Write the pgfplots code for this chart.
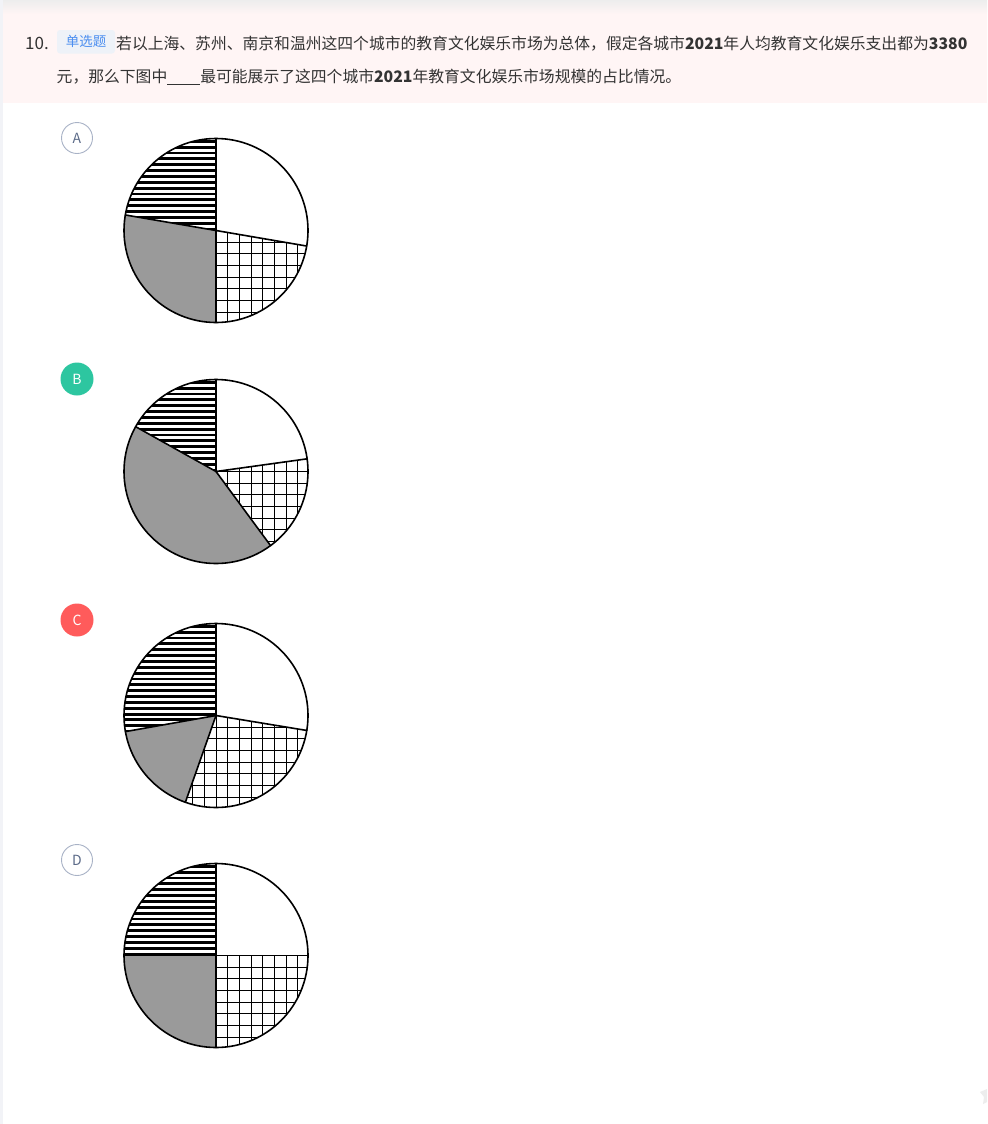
\documentclass[border=0pt]{standalone}
\usepackage{pgfplots}
\usepackage{pgfplotstable}
\pgfplotsset{compat=1.18}
\usepackage{fontspec}
\setmainfont{Noto Sans CJK SC}

\definecolor{txt}{HTML}{333333}
\definecolor{headbg}{HTML}{FFF5F5}
\definecolor{topgray}{HTML}{EDEDED}
\definecolor{sidebar}{HTML}{F2F3F7}
\definecolor{tagbg}{HTML}{EEF2F8}
\definecolor{tagtxt}{HTML}{4B8EF0}
\definecolor{optline}{HTML}{A8B2C6}
\definecolor{opttxt}{HTML}{5B6A88}
\definecolor{optB}{HTML}{2DC6A0}
\definecolor{optC}{HTML}{FF5B5B}
\definecolor{piegray}{HTML}{9A9A9A}

% share of each city (percent), clockwise from 12 o'clock:
% white, grid, gray, stripes
\pgfplotstableread{
opt white grid gray stripes
A 27.7 22.3 27.7 22.3
B 22.8 17.1 43.2 16.9
C 27.6 27.8 16.8 27.8
D 25.0 25.0 25.0 25.0
}\pies

\newcommand\R{92bp}
\newcommand\pie[2]{% #1 row, #2 centre y (image px)
  \pgfplotstablegetelem{#1}{white}\of\pies \pgfmathsetmacro\spW{3.6*\pgfplotsretval}
  \pgfplotstablegetelem{#1}{grid}\of\pies  \pgfmathsetmacro\spG{3.6*\pgfplotsretval}
  \pgfplotstablegetelem{#1}{gray}\of\pies  \pgfmathsetmacro\spY{3.6*\pgfplotsretval}
  \pgfmathsetmacro\spS{360-\spW-\spG-\spY}
  \pgfmathsetmacro\angA{90-\spW}
  \pgfmathsetmacro\angB{\angA-\spG}
  \pgfmathsetmacro\angC{\angB-\spY}
  \fill[white] (axis cs:216,#2) circle[radius=\R];
  % gray slice
  \fill[piegray] (axis cs:216,#2) -- ++(\angB:\R)
    arc[start angle=\angB, delta angle=-\spY, radius=\R] -- cycle;
  % grid slice
  \begin{scope}
    \clip (axis cs:216,#2) -- ++(\angA:\R)
      arc[start angle=\angA, delta angle=-\spG, radius=\R] -- cycle;
    \begin{scope}[shift={(axis cs:216,#2)}]
      \draw[black, line width=1bp, step=11.67bp] (-105bp,-105bp) grid (105bp,105bp);
    \end{scope}
  \end{scope}
  % striped slice
  \begin{scope}
    \clip (axis cs:216,#2) -- ++(\angC:\R)
      arc[start angle=\angC, delta angle=-\spS, radius=\R] -- cycle;
    \begin{scope}[shift={(axis cs:216,#2)}]
      \foreach \k in {-5,...,16}
        \fill[black] (-105bp,\k*5.85bp) rectangle (105bp,\k*5.85bp+2.9bp);
    \end{scope}
  \end{scope}
  % outlines
  \draw[black, line width=1.6bp] (axis cs:216,#2) circle[radius=\R];
  \draw[black, line width=1.6bp, line cap=round]
    (axis cs:216,#2) -- ++(90:\R)
    (axis cs:216,#2) -- ++(\angA:\R)
    (axis cs:216,#2) -- ++(\angB:\R)
    (axis cs:216,#2) -- ++(\angC:\R);
}

\begin{document}
\begin{tikzpicture}
\begin{axis}[
    width=987bp, height=1124bp, scale only axis,
    xmin=0, xmax=987, ymin=0, ymax=1124,
    y dir=reverse,
    hide axis, clip=false,
  ]
\pgfplotsextra{%
  % page background
  \fill[white] (axis cs:0,0) rectangle (axis cs:987,1124);
  \fill[headbg] (axis cs:0,0) rectangle (axis cs:987,103);
  \shade[top color=topgray, bottom color=headbg] (axis cs:0,0) rectangle (axis cs:987,14);
  \fill[sidebar] (axis cs:0,0) rectangle (axis cs:3,1124);

  % question text
  \node[anchor=west, inner sep=0, text=txt, font=\fontsize{17bp}{20bp}\selectfont]
    at (axis cs:25,43) {10.};
  \fill[tagbg, rounded corners=3bp] (axis cs:57,30) rectangle (axis cs:115,53.5);
  \node[anchor=center, inner sep=0, text=tagtxt, font=\fontsize{13.5bp}{16bp}\selectfont]
    at (axis cs:86,41.8) {单选题};
  \node[anchor=west, inner sep=0, text=txt, font=\fontsize{15.8bp}{20bp}\selectfont]
    at (axis cs:116,43.3)
    {若以上海、苏州、南京和温州这四个城市的教育文化娱乐市场为总体，假定各城市{\bfseries 2021}年人均教育文化娱乐支出都为{\bfseries 3380}};
  \node[anchor=west, inner sep=0, text=txt, font=\fontsize{15.8bp}{20bp}\selectfont]
    at (axis cs:56.5,76.7)
    {元，那么下图中\underline{\hspace{33bp}}最可能展示了这四个城市{\bfseries 2021}年教育文化娱乐市场规模的占比情况。};

  % option markers
  \filldraw[fill=white, draw=optline, line width=0.9bp] (axis cs:77,138) circle[radius=15.5bp];
  \node[text=opttxt, inner sep=0, font=\fontsize{14bp}{16bp}\selectfont] at (axis cs:77,138) {A};
  \fill[optB] (axis cs:77,379) circle[radius=16.5bp];
  \node[text=white, inner sep=0, font=\fontsize{14bp}{16bp}\selectfont] at (axis cs:77,379) {B};
  \fill[optC] (axis cs:77,620) circle[radius=16.5bp];
  \node[text=white, inner sep=0, font=\fontsize{14bp}{16bp}\selectfont] at (axis cs:77,620) {C};
  \filldraw[fill=white, draw=optline, line width=0.9bp] (axis cs:77,860) circle[radius=15.5bp];
  \node[text=opttxt, inner sep=0, font=\fontsize{14bp}{16bp}\selectfont] at (axis cs:77,860) {D};

  % pies
  \pie{0}{230.5}
  \pie{1}{471.5}
  \pie{2}{715.5}
  \pie{3}{955.5}

  % corner icon
  \fill[topgray] (axis cs:980,1092) -- (axis cs:987,1089) -- (axis cs:987,1102)
    -- (axis cs:983,1104) -- (axis cs:984,1097) -- cycle;
}
\end{axis}
\end{tikzpicture}
\end{document}
